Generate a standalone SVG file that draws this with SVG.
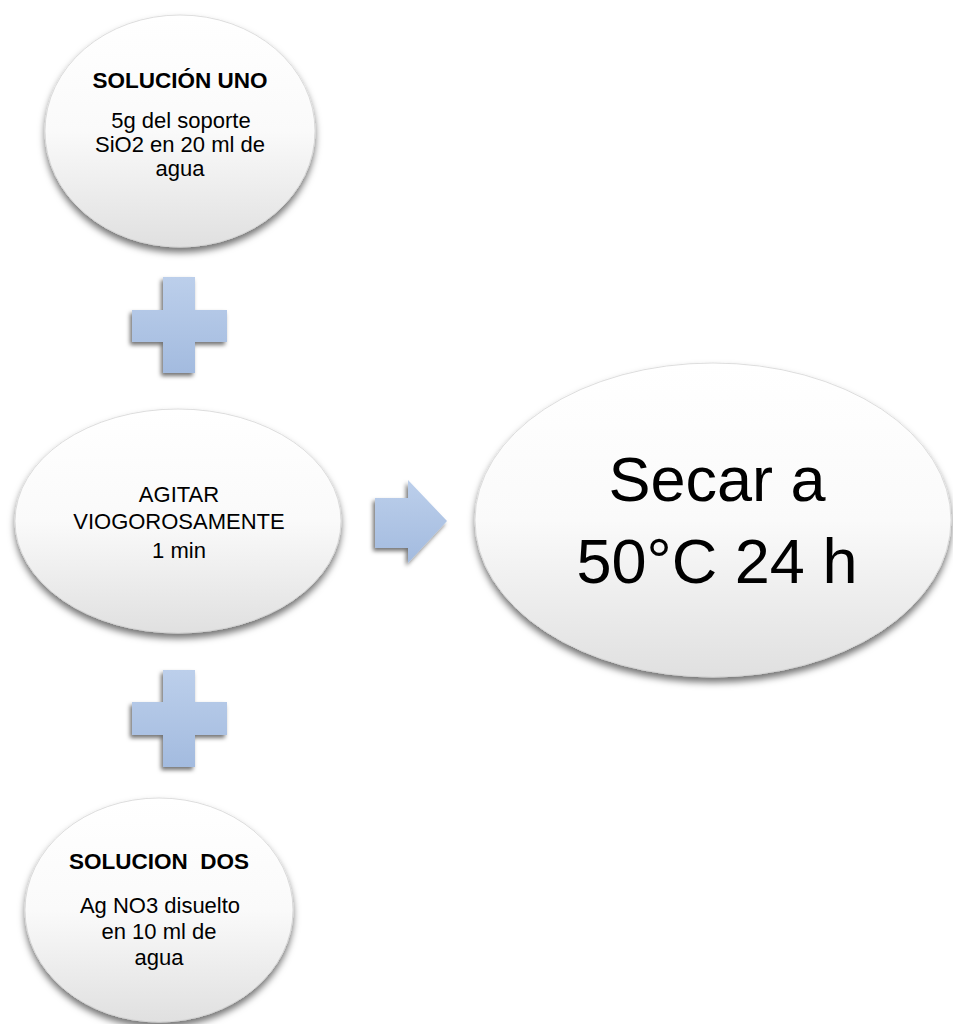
<svg xmlns="http://www.w3.org/2000/svg" width="953" height="1024" viewBox="0 0 953 1024">
<defs>
<linearGradient id="gEll" x1="0" y1="0" x2="0" y2="1">
<stop offset="0" stop-color="#ffffff"/>
<stop offset="0.5" stop-color="#fafafa"/>
<stop offset="1" stop-color="#e0e0e0"/>
</linearGradient>
<linearGradient id="gBlue" x1="0" y1="0" x2="0" y2="1">
<stop offset="0" stop-color="#bccfeb"/>
<stop offset="1" stop-color="#a3bbdf"/>
</linearGradient>
<filter id="shE" x="-10%" y="-10%" width="120%" height="125%">
<feDropShadow dx="0" dy="5" stdDeviation="3.5" flood-color="#000" flood-opacity="0.55"/>
</filter>
<filter id="shB" x="-20%" y="-20%" width="140%" height="140%">
<feDropShadow dx="-2" dy="3" stdDeviation="2" flood-color="#000" flood-opacity="0.55"/>
</filter>
<style>
.ell{fill:url(#gEll);stroke:#d6d6d6;stroke-width:0.8;filter:url(#shE)}
.blue{fill:url(#gBlue);filter:url(#shB)}
.t{font-family:"Liberation Sans",Arial,sans-serif;font-size:22px;fill:#000;text-anchor:middle}
.b{font-weight:bold;font-size:22.5px}
.big{font-size:63px}
</style>
</defs>
<rect width="953" height="1024" fill="#ffffff"/>
<g id="connectors">
<path class="blue" d="M163,277 H195 V310 H227 V342 H195 V373 H163 V342 H132 V310 H163 Z"/>
<path class="blue" d="M163,670 H195 V702 H227 V735 H195 V767 H163 V735 H132 V702 H163 Z"/>
<path class="blue" d="M375,498 H408 V480 L447,521 L408,563 V548 H375 Z"/>
</g>
<g id="node-solucion-uno">
<ellipse class="ell" cx="180" cy="131" rx="135" ry="116"/>
<text class="t b" x="180" y="88">SOLUCIÓN UNO</text>
<text class="t" x="181" y="128">5g del soporte</text>
<text class="t" x="180" y="152">SiO2 en 20 ml de</text>
<text class="t" x="180" y="176">agua</text>
</g>
<g id="node-agitar">
<ellipse class="ell" cx="178" cy="521" rx="163" ry="112"/>
<text class="t" x="179" y="502">AGITAR</text>
<text class="t" x="179" y="529">VIOGOROSAMENTE</text>
<text class="t" x="179" y="558">1 min</text>
</g>
<g id="node-secar">
<ellipse class="ell" cx="713" cy="520" rx="238" ry="157"/>
<text class="t big" x="717" y="501">Secar a</text>
<text class="t big" x="717" y="583">50°C 24 h</text>
</g>
<g id="node-solucion-dos">
<ellipse class="ell" cx="159" cy="910" rx="134" ry="112"/>
<text class="t b" x="159" y="869" xml:space="preserve">SOLUCION  DOS</text>
<text class="t" x="160" y="913">Ag NO3 disuelto</text>
<text class="t" x="159" y="939">en 10 ml de</text>
<text class="t" x="159" y="965">agua</text>
</g>
</svg>
